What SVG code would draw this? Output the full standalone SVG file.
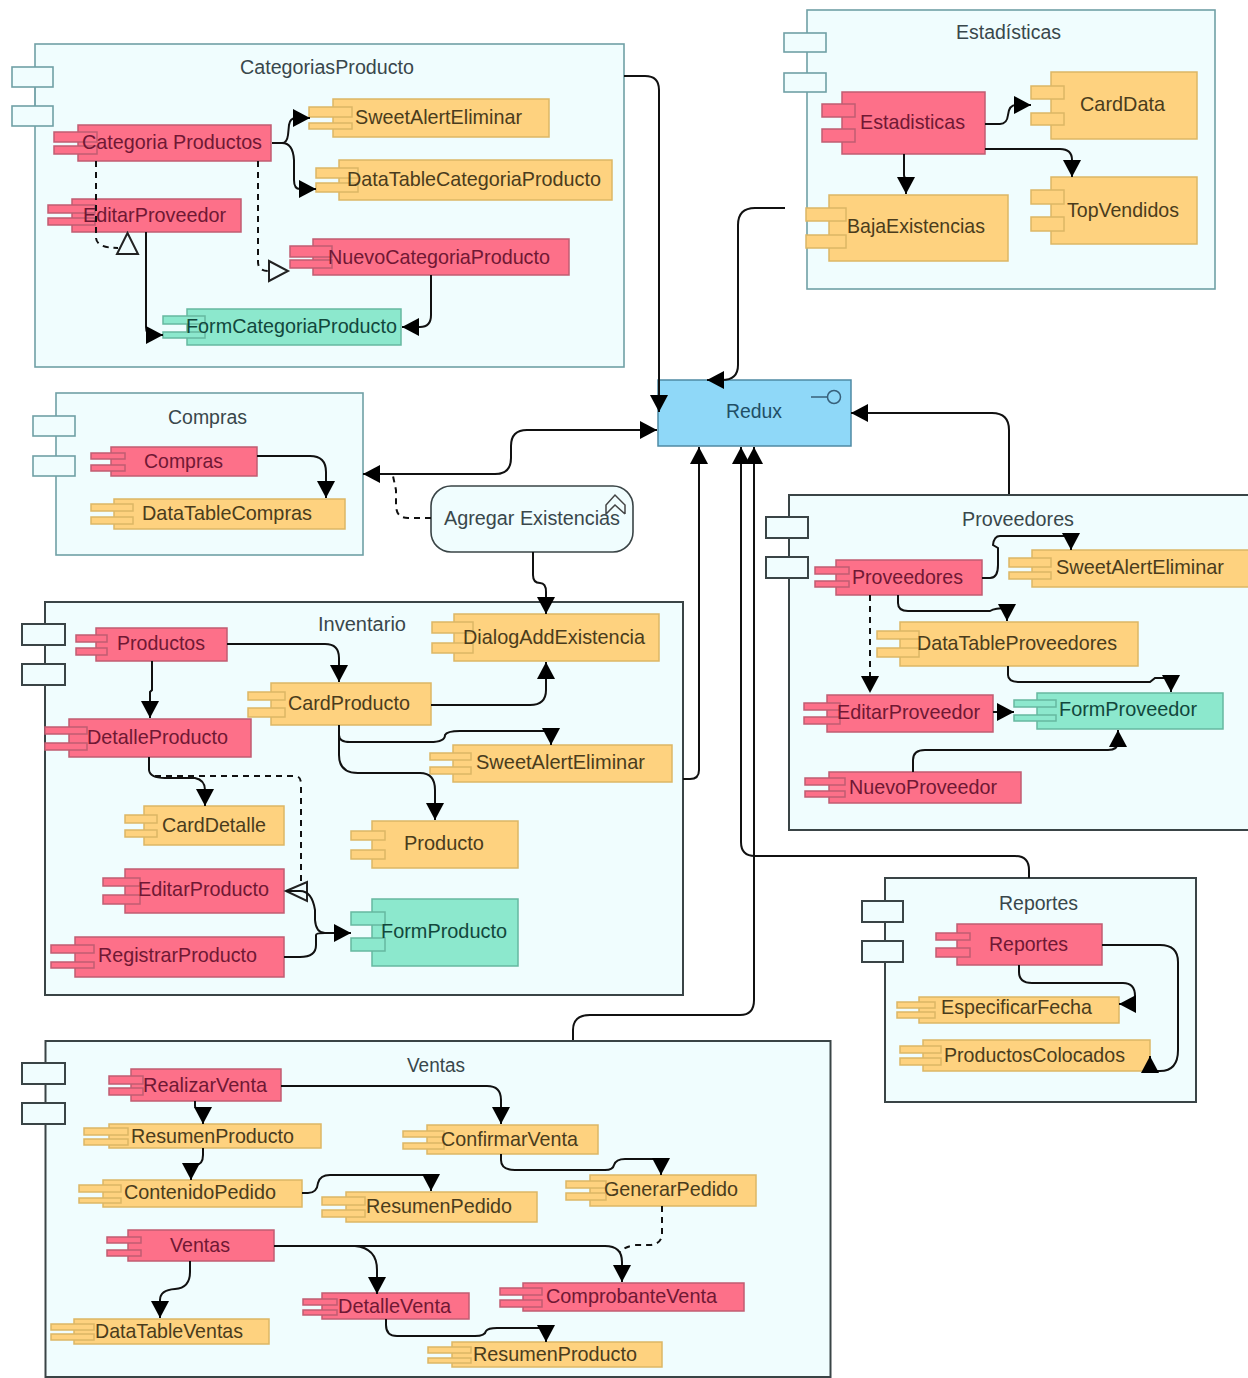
<svg xmlns="http://www.w3.org/2000/svg" width="1248" height="1378" viewBox="0 0 1248 1378">
<style>
text{font-family:"Liberation Sans",Arial,sans-serif;font-size:21px;fill:#4a3c1c}
.box rect{fill:#f0fdfe;stroke:#70a0a6;stroke-width:1.6}
.dk rect{stroke:#3a4446;stroke-width:2}
.box text{fill:#39474b;font-size:20px}
.p rect{fill:#fd7089;stroke:#c05c72;stroke-width:1.5}
.p text{fill:#701834}
.y rect{fill:#fed27f;stroke:#dcb765;stroke-width:1.5}
.g rect{fill:#8ce8cd;stroke:#66b8a0;stroke-width:1.5}
.g text{fill:#12473c}
.e path{fill:none;stroke:#111;stroke-width:2}
.e .a{marker-end:url(#h)}
.e .d{stroke-dasharray:6 5}
.e .da{stroke-dasharray:6 5;marker-end:url(#h)}
.e polygon{fill:#f0fdfe;stroke:#222;stroke-width:2}
</style>
<defs><marker id="h" markerUnits="userSpaceOnUse" markerWidth="17" markerHeight="18" refX="17" refY="9" orient="auto"><path d="M0 0L17 9L0 18Z" fill="#000"/></marker>
<marker id="hs" markerUnits="userSpaceOnUse" markerWidth="17" markerHeight="18" refX="17" refY="9" orient="auto-start-reverse"><path d="M0 0L17 9L0 18Z" fill="#000"/></marker></defs>

<g id="CategoriasProducto" class="box"><rect x="35" y="44" width="589" height="323"/><path d="M35 87V106" stroke="#70a0a6"/><rect x="12" y="67" width="41" height="20"/><rect x="12" y="106" width="41" height="20"/><text x="240" y="74" textLength="174" lengthAdjust="spacingAndGlyphs">CategoriasProducto</text></g>
<g id="Estadisticas" class="box"><rect x="807" y="10" width="408" height="279"/><rect x="784" y="33" width="42" height="19"/><rect x="784" y="73" width="42" height="19"/><text x="956" y="39" textLength="105" lengthAdjust="spacingAndGlyphs">Estadísticas</text></g>
<g id="Compras" class="box"><rect x="56" y="393" width="307" height="162"/><rect x="33" y="416" width="42" height="20"/><rect x="33" y="456" width="42" height="20"/><text x="168" y="424" textLength="79" lengthAdjust="spacingAndGlyphs">Compras</text></g>
<g id="Inventario" class="box dk"><rect x="45" y="602" width="638" height="393"/><rect x="22" y="624" width="43" height="21"/><rect x="22" y="664" width="43" height="21"/><text x="318" y="631" textLength="88" lengthAdjust="spacingAndGlyphs">Inventario</text></g>
<g id="Proveedores" class="box dk"><rect x="789" y="495" width="465" height="335"/><rect x="766" y="517" width="42" height="21"/><rect x="766" y="557" width="42" height="21"/><text x="962" y="526" textLength="112" lengthAdjust="spacingAndGlyphs">Proveedores</text></g>
<g id="Reportes" class="box dk"><rect x="885" y="878" width="311" height="224"/><rect x="862" y="901" width="41" height="21"/><rect x="862" y="941" width="41" height="21"/><text x="999" y="910" textLength="79" lengthAdjust="spacingAndGlyphs">Reportes</text></g>
<g id="Ventas" class="box dk"><rect x="45.500" y="1041" width="785" height="336"/><rect x="22" y="1063" width="43" height="21"/><rect x="22" y="1103" width="43" height="21"/><text x="407" y="1072" textLength="58" lengthAdjust="spacingAndGlyphs">Ventas</text></g>

<g id="n1" class="p"><rect x="78" y="125" width="193" height="36"/><rect x="54" y="132" width="43" height="10"/><rect x="54" y="146" width="43" height="8"/><text x="82" y="149" textLength="180" lengthAdjust="spacingAndGlyphs">Categoria Productos</text></g>
<g id="n2" class="y"><rect x="333" y="99" width="216" height="38"/><rect x="309" y="107" width="43" height="10"/><rect x="309" y="123" width="43" height="6"/><text x="355" y="124" textLength="167" lengthAdjust="spacingAndGlyphs">SweetAlertEliminar</text></g>
<g id="n3" class="y"><rect x="339" y="160" width="273" height="40"/><rect x="316" y="168" width="42" height="10"/><rect x="316" y="183" width="42" height="9"/><text x="347" y="186" textLength="254" lengthAdjust="spacingAndGlyphs">DataTableCategoriaProducto</text></g>
<g id="n4" class="p"><rect x="72" y="199" width="169" height="33"/><rect x="48" y="205" width="47" height="8"/><rect x="48" y="218" width="47" height="7"/><text x="83" y="222" textLength="143" lengthAdjust="spacingAndGlyphs">EditarProveedor</text></g>
<g id="n5" class="p"><rect x="313" y="239" width="256" height="36"/><rect x="290" y="246" width="42" height="11"/><rect x="290" y="260" width="42" height="8"/><text x="328" y="264" textLength="222" lengthAdjust="spacingAndGlyphs">NuevoCategoriaProducto</text></g>
<g id="n6" class="g"><rect x="187" y="309" width="214" height="36"/><rect x="163" y="316" width="42" height="8"/><rect x="163" y="332" width="42" height="6"/><text x="186" y="333" textLength="211" lengthAdjust="spacingAndGlyphs">FormCategoriaProducto</text></g>

<g id="n7" class="p"><rect x="842" y="92" width="143" height="62"/><rect x="822" y="104" width="33" height="13"/><rect x="822" y="129" width="33" height="13"/><text x="860" y="129" textLength="105" lengthAdjust="spacingAndGlyphs">Estadisticas</text></g>
<g id="n8" class="y"><rect x="1051" y="72" width="146" height="67"/><rect x="1031" y="86" width="33" height="13"/><rect x="1031" y="113" width="33" height="12"/><text x="1080" y="111" textLength="85" lengthAdjust="spacingAndGlyphs">CardData</text></g>
<g id="n9" class="y"><rect x="1051" y="177" width="146" height="67"/><rect x="1031" y="190" width="33" height="14"/><rect x="1031" y="217" width="33" height="14"/><text x="1067" y="217" textLength="112" lengthAdjust="spacingAndGlyphs">TopVendidos</text></g>
<g id="n10" class="y"><rect x="829" y="195" width="179" height="66"/><rect x="806" y="208" width="40" height="13"/><rect x="806" y="235" width="40" height="13"/><text x="847" y="233" textLength="138" lengthAdjust="spacingAndGlyphs">BajaExistencias</text></g>

<g id="n11" class="p"><rect x="111" y="447" width="146" height="29"/><rect x="91" y="453" width="34" height="6"/><rect x="91" y="465" width="34" height="6"/><text x="144" y="468" textLength="79" lengthAdjust="spacingAndGlyphs">Compras</text></g>
<g id="n12" class="y"><rect x="114" y="499" width="231" height="30"/><rect x="91" y="504" width="42" height="7"/><rect x="91" y="517" width="42" height="7"/><text x="142" y="520" textLength="170" lengthAdjust="spacingAndGlyphs">DataTableCompras</text></g>

<g id="AgregarExistencias"><rect x="431" y="486" width="202" height="66" rx="20" fill="#f0fdfe" stroke="#3a4446" stroke-width="1.600"/><text x="444" y="525" textLength="176" lengthAdjust="spacingAndGlyphs" style="fill:#39474b;font-size:20px">Agregar Existencias</text><path d="M606 514V505L615 495L625 505V514M606 514L615 505L625 514" fill="none" stroke="#444" stroke-width="1.500"/></g>

<g id="Redux"><rect x="658" y="380" width="193" height="66" fill="#8fd8f8" stroke="#4f8aa4" stroke-width="1.500"/><text x="726" y="418" textLength="56" lengthAdjust="spacingAndGlyphs" style="fill:#1f4f66;font-size:20px">Redux</text><path d="M811 397H827" stroke="#38607a" stroke-width="1.500"/><circle cx="834" cy="397" r="6.500" fill="none" stroke="#38607a" stroke-width="1.500"/></g>

<g id="n13" class="p"><rect x="96" y="628" width="131" height="33"/><rect x="76" y="635" width="31" height="7"/><rect x="76" y="648" width="31" height="7"/><text x="117" y="650" textLength="88" lengthAdjust="spacingAndGlyphs">Productos</text></g>
<g id="n14" class="y"><rect x="454" y="614" width="205" height="47"/><rect x="432" y="622" width="41" height="11"/><rect x="432" y="643" width="41" height="10"/><text x="463" y="644" textLength="182" lengthAdjust="spacingAndGlyphs">DialogAddExistencia</text></g>
<g id="n15" class="y"><rect x="271" y="683" width="160" height="42"/><rect x="248" y="692" width="37" height="8"/><rect x="248" y="708" width="37" height="9"/><text x="288" y="710" textLength="122" lengthAdjust="spacingAndGlyphs">CardProducto</text></g>
<g id="n16" class="p"><rect x="69" y="719" width="182" height="38"/><rect x="45" y="727" width="42" height="7"/><rect x="45" y="743" width="42" height="7"/><text x="87" y="744" textLength="141" lengthAdjust="spacingAndGlyphs">DetalleProducto</text></g>
<g id="n17" class="y"><rect x="453" y="745" width="219" height="37"/><rect x="430" y="753" width="41" height="7"/><rect x="430" y="767" width="41" height="7"/><text x="476" y="769" textLength="169" lengthAdjust="spacingAndGlyphs">SweetAlertEliminar</text></g>
<g id="n18" class="y"><rect x="372" y="821" width="146" height="47"/><rect x="351" y="831" width="34" height="9"/><rect x="351" y="850" width="34" height="9"/><text x="404" y="850" textLength="80" lengthAdjust="spacingAndGlyphs">Producto</text></g>
<g id="n19" class="y"><rect x="144" y="806" width="140" height="39"/><rect x="125" y="815" width="32" height="8"/><rect x="125" y="830" width="32" height="7"/><text x="162" y="832" textLength="104" lengthAdjust="spacingAndGlyphs">CardDetalle</text></g>
<g id="n20" class="p"><rect x="125" y="869" width="159" height="44"/><rect x="103" y="878" width="37" height="8"/><rect x="103" y="895" width="37" height="9"/><text x="138" y="896" textLength="131" lengthAdjust="spacingAndGlyphs">EditarProducto</text></g>
<g id="n21" class="p"><rect x="75" y="937" width="209" height="40"/><rect x="51" y="945" width="43" height="8"/><rect x="51" y="962" width="43" height="6"/><text x="98" y="962" textLength="159" lengthAdjust="spacingAndGlyphs">RegistrarProducto</text></g>
<g id="n22" class="g"><rect x="372" y="899" width="146" height="67"/><rect x="351" y="912" width="34" height="13"/><rect x="351" y="938" width="34" height="13"/><text x="381" y="938" textLength="126" lengthAdjust="spacingAndGlyphs">FormProducto</text></g>

<g id="n23" class="p"><rect x="836" y="560" width="146" height="35"/><rect x="815" y="567" width="34" height="7"/><rect x="815" y="581" width="34" height="6"/><text x="852" y="584" textLength="111" lengthAdjust="spacingAndGlyphs">Proveedores</text></g>
<g id="n24" class="y"><rect x="1032" y="550" width="222" height="37"/><rect x="1009" y="558" width="42" height="9"/><rect x="1009" y="572" width="42" height="7"/><text x="1056" y="574" textLength="168" lengthAdjust="spacingAndGlyphs">SweetAlertEliminar</text></g>
<g id="n25" class="y"><rect x="900" y="622" width="238" height="44"/><rect x="877" y="631" width="42" height="8"/><rect x="877" y="648" width="42" height="9"/><text x="917" y="650" textLength="200" lengthAdjust="spacingAndGlyphs">DataTableProveedores</text></g>
<g id="n26" class="p"><rect x="827" y="695" width="166" height="37"/><rect x="804" y="703" width="36" height="7"/><rect x="804" y="717" width="36" height="7"/><text x="837" y="719" textLength="143" lengthAdjust="spacingAndGlyphs">EditarProveedor</text></g>
<g id="n27" class="g"><rect x="1037" y="693" width="186" height="36"/><rect x="1014" y="700" width="42" height="7"/><rect x="1014" y="715" width="42" height="6"/><text x="1059" y="716" textLength="138" lengthAdjust="spacingAndGlyphs">FormProveedor</text></g>
<g id="n28" class="p"><rect x="829" y="772" width="192" height="31"/><rect x="805" y="778" width="40" height="7"/><rect x="805" y="791" width="40" height="6"/><text x="849" y="794" textLength="148" lengthAdjust="spacingAndGlyphs">NuevoProveedor</text></g>

<g id="n29" class="p"><rect x="957" y="924" width="145" height="41"/><rect x="936" y="933" width="34" height="7"/><rect x="936" y="948" width="34" height="9"/><text x="989" y="951" textLength="79" lengthAdjust="spacingAndGlyphs">Reportes</text></g>
<g id="n30" class="y"><rect x="919" y="997" width="200" height="26"/><rect x="897" y="1002" width="38" height="6"/><rect x="897" y="1012" width="38" height="6"/><text x="941" y="1014" textLength="151" lengthAdjust="spacingAndGlyphs">EspecificarFecha</text></g>
<g id="n31" class="y"><rect x="923" y="1040" width="227" height="31"/><rect x="900" y="1046" width="41" height="7"/><rect x="900" y="1058" width="41" height="7"/><text x="944" y="1062" textLength="181" lengthAdjust="spacingAndGlyphs">ProductosColocados</text></g>

<g id="n32" class="p"><rect x="131" y="1069" width="150" height="32"/><rect x="109" y="1076" width="34" height="8"/><rect x="109" y="1088" width="34" height="7"/><text x="143" y="1092" textLength="124" lengthAdjust="spacingAndGlyphs">RealizarVenta</text></g>
<g id="n33" class="y"><rect x="109" y="1124" width="212" height="24"/><rect x="84" y="1128" width="44" height="7"/><rect x="84" y="1139" width="44" height="6"/><text x="131" y="1143" textLength="163" lengthAdjust="spacingAndGlyphs">ResumenProducto</text></g>
<g id="n34" class="y"><rect x="427" y="1125" width="171" height="29"/><rect x="403" y="1131" width="41" height="6"/><rect x="403" y="1143" width="41" height="6"/><text x="441" y="1146" textLength="137" lengthAdjust="spacingAndGlyphs">ConfirmarVenta</text></g>
<g id="n35" class="y"><rect x="103" y="1180" width="199" height="27"/><rect x="79" y="1185" width="42" height="7"/><rect x="79" y="1198" width="42" height="5"/><text x="124" y="1199" textLength="152" lengthAdjust="spacingAndGlyphs">ContenidoPedido</text></g>
<g id="n36" class="y"><rect x="346" y="1192" width="191" height="30"/><rect x="322" y="1197" width="43" height="8"/><rect x="322" y="1210" width="43" height="7"/><text x="366" y="1213" textLength="146" lengthAdjust="spacingAndGlyphs">ResumenPedido</text></g>
<g id="n37" class="y"><rect x="590" y="1175" width="166" height="31"/><rect x="566" y="1181" width="40" height="7"/><rect x="566" y="1193" width="40" height="7"/><text x="604" y="1196" textLength="134" lengthAdjust="spacingAndGlyphs">GenerarPedido</text></g>
<g id="n38" class="p"><rect x="128" y="1230" width="146" height="31"/><rect x="107" y="1237" width="34" height="6"/><rect x="107" y="1250" width="34" height="6"/><text x="170" y="1252" textLength="60" lengthAdjust="spacingAndGlyphs">Ventas</text></g>
<g id="n39" class="p"><rect x="523" y="1283" width="221" height="28"/><rect x="500" y="1288" width="42" height="7"/><rect x="500" y="1300" width="42" height="7"/><text x="546" y="1303" textLength="171" lengthAdjust="spacingAndGlyphs">ComprobanteVenta</text></g>
<g id="n40" class="p"><rect x="322" y="1293" width="147" height="26"/><rect x="303" y="1299" width="34" height="6"/><rect x="303" y="1310" width="34" height="5"/><text x="338" y="1313" textLength="113" lengthAdjust="spacingAndGlyphs">DetalleVenta</text></g>
<g id="n41" class="y"><rect x="74" y="1319" width="195" height="25"/><rect x="51" y="1324" width="43" height="6"/><rect x="51" y="1334" width="43" height="6"/><text x="95" y="1338" textLength="148" lengthAdjust="spacingAndGlyphs">DataTableVentas</text></g>
<g id="n42" class="y"><rect x="452" y="1342" width="210" height="25"/><rect x="428" y="1347" width="43" height="6"/><rect x="428" y="1358" width="43" height="5"/><text x="473" y="1361" textLength="164" lengthAdjust="spacingAndGlyphs">ResumenProducto</text></g>

<g id="connectors" class="e">
<path class="a" d="M272 143H282Q287 143 288 135L289 125Q290 118 296 118H310"/>
<path class="a" d="M282 143Q293 143 294 160V180Q294 189 300 189H316"/>
<path class="d" d="M96 161V238Q97 248 118 248"/><polygon points="127.500,233 138,254 117,254"/>
<path class="d" d="M258 161V262Q258 271 269 271"/><polygon points="269,261 288,271 269,281"/>
<path class="a" d="M146 232V327Q146 335 152 335H163"/>
<path class="a" d="M431 275V315Q431 327 420 327H402"/>
<path class="a" d="M624 76H645Q659 76 659 90V412"/>
<path class="a" d="M785 208H755Q738 208 738 225V365Q738 380 722 380H707"/>
<path d="M363 474H495Q511 474 511 458V446Q511 430 527 430H657" marker-start="url(#hs)" marker-end="url(#hs)"/>
<path class="d" d="M431 518H408Q396 518 396 505V490L393 476"/>
<path class="a" d="M683 779H690Q699 779 699 770V447"/>
<path class="a" d="M1029 878V870Q1029 856 1015 856H755Q741 856 741 842V447"/>
<path class="a" d="M573 1040V1030Q573 1015 590 1015H740Q754 1015 754 1000V447"/>
<path class="a" d="M1009 494V430Q1009 413 992 413H851"/>
<path class="a" d="M985 124H1000Q1007 124 1008 115Q1009 105 1016 105H1031"/>
<path class="a" d="M985 149H1060Q1072 149 1072 160V177"/>
<path class="a" d="M904 154V175Q904 178 906 178V194"/>
<path class="a" d="M257 456H310Q326 456 326 472V498"/>
<path class="a" d="M533 552V575Q533 583 540 583Q546 583 546 592V614"/>
<path class="a" d="M227 644H325Q339 644 339 658V682"/>
<path class="a" d="M152 661V690L150 692V718"/>
<path class="a" d="M431 705H530Q546 705 546 690V662"/>
<path class="a" d="M339 725V735Q339 742 350 742H430Q445 742 445 735Q447 731 460 731H551V745"/>
<path class="a" d="M339 725V755Q339 773 358 773H420Q435 773 435 790V820"/>
<path class="a" d="M149 757V770Q150 778 165 778H195Q205 780 205 790V806"/>
<path class="d" d="M155 776H295Q301 776 301 784V885"/><polygon points="286,891 307,882 307,901"/>
<path class="a" d="M286 891H300Q312 891 315 910V920Q316 933 325 933H351"/>
<path d="M284 957H300Q316 957 316 945V935Q316 933 325 933"/>
<path class="a" d="M982 578H990Q998 578 998 565V548L993 545Q994 536 1000 536H1071V550"/>
<path class="a" d="M898 595V603Q898 611 908 611H990Q995 608 1007 608V621"/>
<path class="da" d="M870 595V693"/>
<path class="a" d="M1008 666V675Q1008 682 1020 682H1150L1155 678H1171V692"/>
<path class="a" d="M993 712H1014"/>
<path class="a" d="M913 772V760Q913 750 925 750H1108Q1118 750 1118 742V730"/>
<path class="a" d="M1019 965V972Q1019 983 1032 983H1123Q1135 983 1135 996V1004H1119"/>
<path class="a" d="M1102 945H1160Q1178 945 1178 962V1050Q1178 1071 1160 1071H1150V1056"/>
<path class="a" d="M281 1086H487Q501 1086 501 1100V1124"/>
<path class="a" d="M195 1101V1106Q195 1109 200 1109H203V1124"/>
<path class="a" d="M203 1148V1155Q203 1165 195 1165Q191 1166 191 1170V1180"/>
<path class="a" d="M302 1193H308Q317 1193 318 1183Q320 1175 330 1175H431V1191"/>
<path class="a" d="M501 1154V1160Q501 1170 515 1170H605Q613 1170 614 1165Q616 1159 625 1159H661V1175"/>
<path class="a" d="M274 1246H355Q377 1248 377 1270V1294"/>
<path class="a" d="M274 1246H605Q622 1246 622 1262V1282"/>
<path class="d" d="M662 1206V1235Q661 1244 650 1245H635Q624 1247 620 1252"/>
<path class="a" d="M190 1261V1272Q190 1288 175 1289Q160 1290 160 1300V1318"/>
<path class="a" d="M386 1319V1325Q386 1336 397 1336H475Q485 1336 486 1331Q488 1328 497 1328H546V1342"/>
</g>
</svg>
